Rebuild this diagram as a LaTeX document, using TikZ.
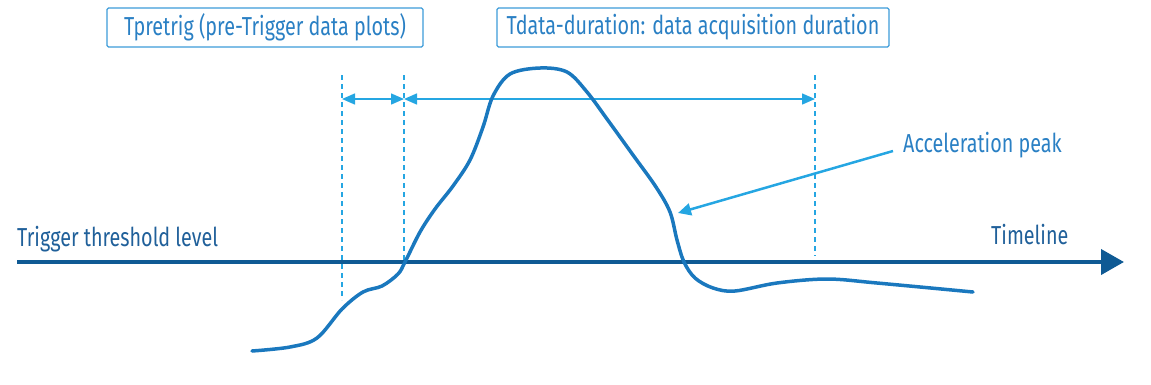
\documentclass[tikz,border=0pt]{standalone}
\usepackage{fontspec}
\setmainfont[FakeStretch=0.76]{Fira Sans}
\usetikzlibrary{arrows.meta}
\definecolor{tldark}{HTML}{0F5A94}
\definecolor{curveblue}{HTML}{1A78BE}
\definecolor{lightblue}{HTML}{25A6E2}
\definecolor{textblue}{HTML}{2A80C4}
\definecolor{darktext}{HTML}{20609A}
\definecolor{boxblue}{HTML}{3C9BD8}
\tikzset{
  x=1pt, y=-1pt,
  labelbox/.style={draw=boxblue, line width=1.3pt, rounded corners=1.5pt, text=textblue,
    font=\fontsize{26}{29}\selectfont, inner sep=0pt, minimum height=39pt},
  plainlabel/.style={font=\fontsize{26}{29}\selectfont, inner sep=0pt},
  guide/.style={draw=lightblue, line width=2pt, dash pattern=on 5pt off 4pt},
  span/.style={draw=lightblue, line width=1.5pt, {Triangle[length=13pt,width=11pt]}-{Triangle[length=13pt,width=11pt]}},
}
\begin{document}
\begin{tikzpicture}
\useasboundingbox (0,0) rectangle (1151,384);
% label boxes
\node[labelbox, minimum width=316pt] (tpre) at (265,27.5) {Tpretrig (pre-Trigger data plots)};
\node[labelbox, minimum width=392pt] (tdata) at (693,27.5) {Tdata-duration: data acquisition duration};
% guide lines
\coordinate (d1t) at (342,75); \coordinate (d1b) at (342,300);
\coordinate (d2t) at (404,75); \coordinate (d2b) at (404,262);
\coordinate (d3t) at (815,75); \coordinate (d3b) at (815,256);
\draw[guide] (d1t) -- (d1b);
\draw[guide] (d2t) -- (d2b);
\draw[guide] (d3t) -- (d3b);
\coordinate (a1) at (342,99); \coordinate (a2) at (404,99); \coordinate (a3) at (815,99);
\draw[span] (a1) -- (a2);
\draw[span] (a2) -- (a3);
% timeline
\coordinate (tl0) at (17,262); \coordinate (tl1) at (1124,262);
\draw[tldark, line width=4pt, -{Triangle[length=23pt,width=25pt]}] (tl0) -- (tl1);
\node[plainlabel, text=darktext, anchor=base west] (trig) at (17,246) {Trigger threshold level};
\node[plainlabel, text=darktext, anchor=base west] (time) at (991,244) {Timeline};
% curve
\draw[curveblue, line width=3.5pt, line cap=round, line join=round]
  plot[smooth, tension=0.55] coordinates {
  (252,351) (290,347) (317,338) (342,309) (363,292) (382,286) (398,274) (405,262)
  (420,232) (435,209) (453,186) (470,160) (483,127) (493,96) (510,74) (540,68)
  (567,72) (587,92) (607,119) (633,155) (656,187) (670,212) (677,240) (684,262)
  (695,278) (713,288) (735,291) (777,283) (827,279) (877,283) (973,292)};
% acceleration peak
\node[plainlabel, text=textblue, anchor=base west] (acc) at (903,152) {Acceleration peak};
\coordinate (accs) at (893,151); \coordinate (pk) at (678,213);
\draw[lightblue, line width=2.5pt, -{Triangle[length=13pt,width=12pt]}] (accs) -- (pk);
\end{tikzpicture}
\end{document}
